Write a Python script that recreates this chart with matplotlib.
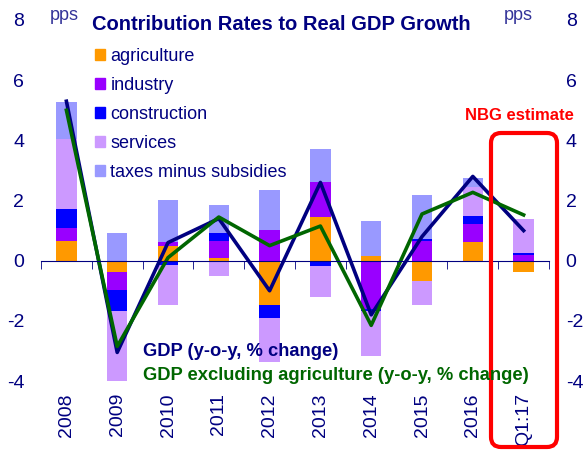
import numpy as np
import matplotlib
matplotlib.use('Agg')
import matplotlib.pyplot as plt
from matplotlib.patches import Patch, FancyBboxPatch

plt.rcParams['font.family'] = ['Liberation Sans', 'DejaVu Sans']
plt.rcParams['axes.unicode_minus'] = False

# contributions to real GDP growth, pps
periods = ['2008', '2009', '2010', '2011', '2012', '2013', '2014', '2015', '2016', 'Q1:17']
agriculture = [0.66, -0.39, 0.49, 0.08, -1.46, 1.44, 0.14, -0.66, 0.63, -0.37]
industry = [0.43, -0.58, 0.14, 0.58, 1.03, 1.18, -1.60, 0.64, 0.59, 0.19]
construction = [0.64, -0.69, -0.13, 0.27, -0.46, -0.17, -0.06, 0.08, 0.28, 0.05]
services = [2.31, -2.36, -1.34, -0.50, -1.46, -1.05, -1.50, -0.81, 0.96, 1.14]
taxes = [1.22, 0.92, 1.39, 0.92, 1.32, 1.09, 1.19, 1.46, 0.30, 0.00]
gdp = [5.3, -3.05, 0.6, 1.4, -1.0, 2.6, -1.8, 0.8, 2.8, 1.0]
gdp_ex_agri = [5.0, -2.85, 0.1, 1.45, 0.5, 1.15, -2.15, 1.55, 2.27, 1.52]

series = [agriculture, industry, construction, services, taxes]
names = ['agriculture', 'industry', 'construction', 'services', 'taxes minus subsidies']
colors = ['#FF9900', '#9900FF', '#0000FF', '#CC99FF', '#9999FF']

navy = '#000080'

fig = plt.figure(figsize=(5.86, 4.53), dpi=100)
ax = fig.add_axes([41 / 586, 1 - 381 / 453, 508 / 586, 361 / 453])

x = np.arange(len(periods))
pos_base = np.zeros(len(periods))
neg_base = np.zeros(len(periods))
for vals, c in zip(series, colors):
    v = np.array(vals)
    base = np.where(v >= 0, pos_base, neg_base)
    ax.bar(x, v, 0.4, bottom=base, color=c, linewidth=0, zorder=2)
    pos_base += np.where(v >= 0, v, 0)
    neg_base += np.where(v < 0, v, 0)

ax.plot(x, gdp, color=navy, lw=2.6, zorder=3)
ax.plot(x, gdp_ex_agri, color='#006600', lw=2.6, zorder=4)

ax.set_xlim(-0.5, len(periods) - 0.5)
ax.set_ylim(-4, 8)
ax.set_yticks(range(-4, 9, 2))
ax.tick_params(axis='y', length=0, pad=12, labelsize=14, labelcolor=navy,
               labelleft=True, labelright=True)

for s in ['top', 'left', 'right']:
    ax.spines[s].set_visible(False)
ax.spines['bottom'].set_position(('data', 0))
ax.spines['bottom'].set_color(navy)
ax.spines['bottom'].set_zorder(5)
ax.set_xticks(x)
ax.set_xticklabels([])
ax.set_xticks(np.arange(len(periods) + 1) - 0.5, minor=True)
ax.tick_params(axis='x', which='major', length=0)
ax.tick_params(axis='x', which='minor', length=6, color=navy, direction='out')

for i, p in enumerate(periods):
    ax.text(i, -4.4, p, rotation=90, ha='center', va='top', fontsize=14, color=navy)

fig.text(92 / 586, 1 - 24 / 453, 'Contribution Rates to Real GDP Growth',
         fontsize=14.5, fontweight='bold', color=navy, va='center')
fig.text(50 / 586, 1 - 16 / 453, 'pps', fontsize=13, color='#333399', va='center')
fig.text(504 / 586, 1 - 16 / 453, 'pps', fontsize=13, color='#333399', va='center')

handles = [Patch(color=c, label=n) for c, n in zip(colors, names)]
ax.legend(handles=handles, loc='upper left', bbox_to_anchor=(95 / 586, 1 - 48 / 453),
          bbox_transform=fig.transFigure, frameon=False, fontsize=13,
          handlelength=0.55, handleheight=0.55, handletextpad=0.3,
          labelspacing=0.66, borderpad=0, borderaxespad=0, labelcolor=navy)

fig.text(143 / 586, 1 - 352 / 453, 'GDP (y-o-y, % change)', fontsize=13.2,
         fontweight='bold', color=navy, va='center')
fig.text(143 / 586, 1 - 375 / 453, 'GDP excluding agriculture (y-o-y, % change)',
         fontsize=13.2, fontweight='bold', color='#006600', va='center')

fig.text(465 / 586, 1 - 116 / 453, 'NBG estimate', fontsize=12, fontweight='bold',
         color='#FF0000', va='center')
box = FancyBboxPatch((4.91, 0.06), 0.66, 3.14, boxstyle='round,pad=0,rounding_size=0.1',
                     transform=fig.dpi_scale_trans, fill=False, edgecolor='#FF0000',
                     linewidth=3)
fig.add_artist(box)

fig.savefig('out.png', dpi=100)
